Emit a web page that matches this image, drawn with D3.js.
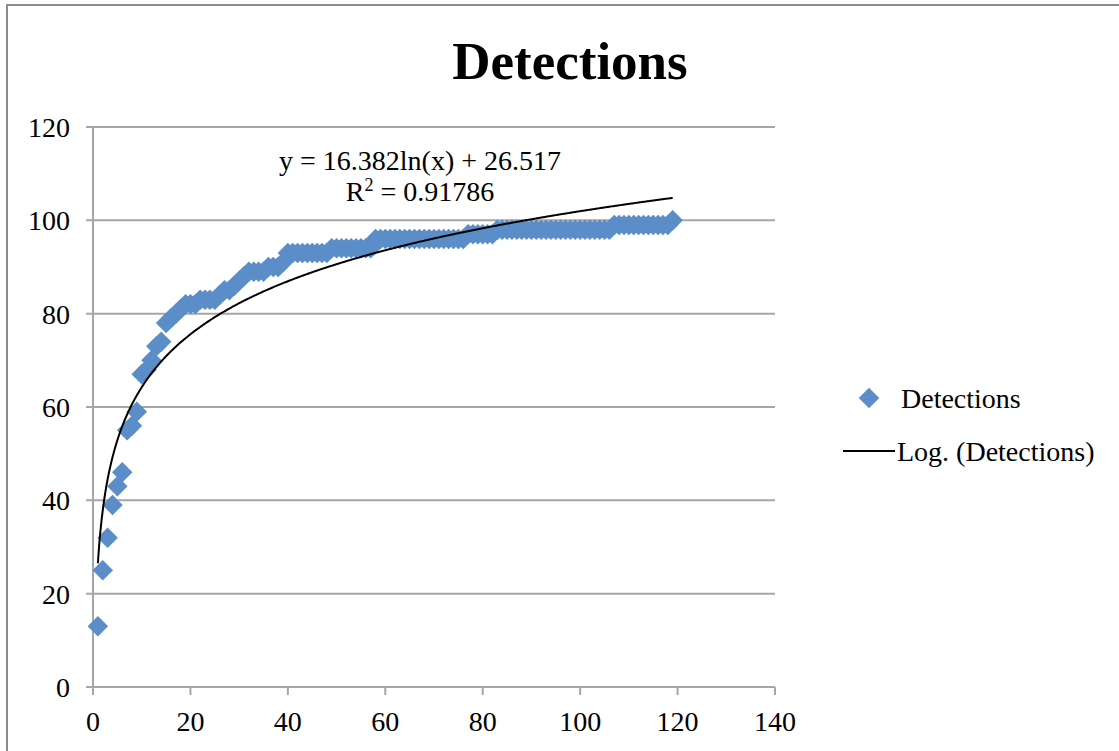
<!DOCTYPE html>
<html>
<head>
<meta charset="utf-8">
<script src="https://cdn.jsdelivr.net/npm/d3@7"></script>
<style>
  body { margin: 0; background: #fff; }
  text { font-family: "Liberation Serif", "DejaVu Serif", serif; fill: #000; }
</style>
</head>
<body>
<svg id="svg"></svg>
<script>
// x = 1..119, one detection count each
const dayNumbers = d3.range(1, 120)
const detections = [
  13, 25, 32, 39, 43, 46, 55, 56, 59, 67,
  68, 70, 73, 74, 78, 79, 80, 81, 82, 82,
  82, 83, 83, 83, 83, 84, 85, 85, 86, 87,
  88, 89, 89, 89, 89, 90, 90, 90, 91, 93,
  93, 93, 93, 93, 93, 93, 93, 93, 94, 94,
  94, 94, 94, 94, 94, 94, 94, 96, 96, 96,
  96, 96, 96, 96, 96, 96, 96, 96, 96, 96,
  96, 96, 96, 96, 96, 96, 97, 97, 97, 97,
  97, 97, 98, 98, 98, 98, 98, 98, 98, 98,
  98, 98, 98, 98, 98, 98, 98, 98, 98, 98,
  98, 98, 98, 98, 98, 98, 99, 99, 99, 99,
  99, 99, 99, 99, 99, 99, 99, 99, 100
]
const xTicks = [0, 20, 40, 60, 80, 100, 120, 140]
const yTicks = [0, 20, 40, 60, 80, 100, 120]
// trendline coefficients as printed on the chart
const trendA = 16.382
const trendB = 26.517

const W = 1119, H = 751
const svg = d3.select('#svg')
  .attr('width', W)
  .attr('height', H)
  .style('background-color', '#ffffff')

const xScale = d3.scaleLinear().domain([0, 140]).range([93, 775])
const yScale = d3.scaleLinear().domain([0, 120]).range([687, 127])

// chart frame (left and top visible)
svg.append('path')
  .attr('d', `M7,${H} L7,5 L${W},5`)
  .attr('fill', 'none')
  .attr('stroke', '#8c8c8c')
  .attr('stroke-width', 2)

// title
svg.append('text')
  .attr('x', 570)
  .attr('y', 79)
  .attr('text-anchor', 'middle')
  .style('font-size', '53px')
  .style('font-weight', 'bold')
  .text('Detections')

// gridlines
svg.append('g').selectAll('line')
  .data(yTicks.filter(d => d > 0))
  .enter()
  .append('line')
  .attr('x1', 86)
  .attr('x2', xScale(140))
  .attr('y1', d => yScale(d))
  .attr('y2', d => yScale(d))
  .attr('stroke', '#a6a6a6')
  .attr('stroke-width', 2)

// y axis
svg.append('line')
  .attr('x1', xScale(0)).attr('x2', xScale(0))
  .attr('y1', yScale(120)).attr('y2', 695)
  .attr('stroke', '#a6a6a6').attr('stroke-width', 2)

// x axis
svg.append('line')
  .attr('x1', 86).attr('x2', xScale(140))
  .attr('y1', yScale(0)).attr('y2', yScale(0))
  .attr('stroke', '#a6a6a6').attr('stroke-width', 2)

svg.append('g').selectAll('line')
  .data(xTicks)
  .enter()
  .append('line')
  .attr('x1', d => xScale(d)).attr('x2', d => xScale(d))
  .attr('y1', yScale(0)).attr('y2', yScale(0) + 8)
  .attr('stroke', '#a6a6a6').attr('stroke-width', 2)

svg.append('g').selectAll('text')
  .data(yTicks)
  .enter()
  .append('text')
  .attr('x', 70)
  .attr('y', d => yScale(d) + 10)
  .attr('text-anchor', 'end')
  .style('font-size', '28px')
  .text(d => d)

svg.append('g').selectAll('text')
  .data(xTicks)
  .enter()
  .append('text')
  .attr('x', d => xScale(d))
  .attr('y', 731)
  .attr('text-anchor', 'middle')
  .style('font-size', '28px')
  .text(d => d)

// markers
const diamond = d3.symbol().type(d3.symbolSquare).size(210)
const points = dayNumbers.map((x, i) => ({ x: x, y: detections[i] }))

svg.append('g').selectAll('path')
  .data(points)
  .enter()
  .append('path')
  .attr('d', diamond)
  .attr('transform', d => 'translate(' + xScale(d.x) + ',' + yScale(d.y) + ') rotate(45)')
  .attr('fill', '#5b8ec8')

// log trendline
const trend = d3.range(1, 119.01, 0.25).map(x => ({ x: x, y: trendA * Math.log(x) + trendB }))
svg.append('path')
  .datum(trend)
  .attr('d', d3.line().x(d => xScale(d.x)).y(d => yScale(d.y)).curve(d3.curveMonotoneX))
  .attr('fill', 'none')
  .attr('stroke', '#000')
  .attr('stroke-width', 2)

// equation
const eq = svg.append('text')
  .attr('text-anchor', 'middle')
  .style('font-size', '28px')
eq.append('tspan').attr('x', 420).attr('y', 170).text('y = 16.382ln(x) + 26.517')
const r2 = eq.append('tspan').attr('x', 420).attr('y', 201)
r2.append('tspan').text('R')
r2.append('tspan').attr('dy', -10).style('font-size', '18px').text('2')
r2.append('tspan').attr('dy', 10).text(' = 0.91786')

// legend
svg.append('path')
  .attr('d', diamond)
  .attr('transform', 'translate(869,398) rotate(45)')
  .attr('fill', '#5b8ec8')
svg.append('text')
  .attr('x', 901).attr('y', 408)
  .style('font-size', '28px')
  .text('Detections')

svg.append('line')
  .attr('x1', 843).attr('x2', 895)
  .attr('y1', 451).attr('y2', 451)
  .attr('stroke', '#000').attr('stroke-width', 2)
svg.append('text')
  .attr('x', 897).attr('y', 461)
  .style('font-size', '28px')
  .text('Log. (Detections)')
</script>
</body>
</html>
